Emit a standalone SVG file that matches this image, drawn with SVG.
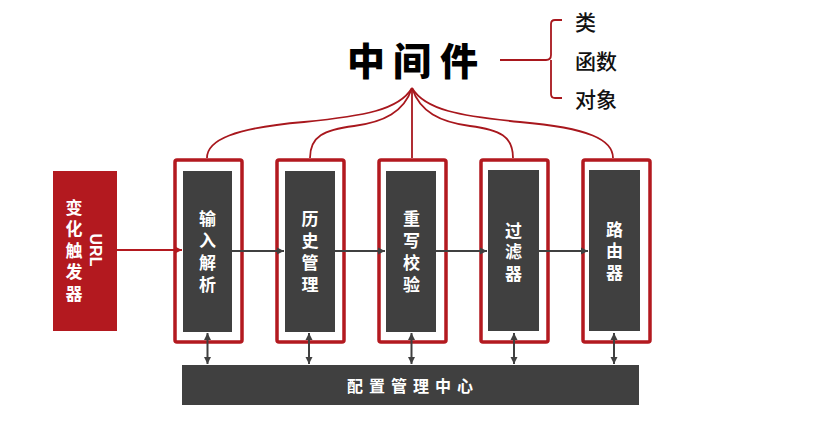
<svg xmlns="http://www.w3.org/2000/svg" width="822" height="433" viewBox="0 0 822 433">
<defs>
<style>
.red{fill:#B3191F}
.frame{fill:none;stroke:#B3191F;stroke-width:3.5}
.inner{fill:#404040}
.nt{font-family:"Noto Sans CJK SC","Noto Sans",sans-serif;font-weight:bold;font-size:17px;fill:#ffffff;text-anchor:middle}
.vt{writing-mode:vertical-rl;text-orientation:upright;letter-spacing:5.3px}
.ct{font-family:"Noto Sans CJK SC","Noto Sans",sans-serif;font-weight:500;font-size:21px;fill:#111111;dominant-baseline:central}
.rl{fill:none;stroke:#A8171D;stroke-width:1.8}
.dl{fill:none;stroke:#404040;stroke-width:2}
</style>
<marker id="ar" markerWidth="8" markerHeight="8" refX="7" refY="4" orient="auto-start-reverse" markerUnits="userSpaceOnUse">
<path d="M0,0.5 L7,4 L0,7.5 Z" fill="#404040"/>
</marker>
<marker id="arr" markerWidth="8" markerHeight="8" refX="7" refY="4" orient="auto" markerUnits="userSpaceOnUse">
<path d="M0,0.5 L7,4 L0,7.5 Z" fill="#B3191F"/>
</marker>
</defs>
<rect width="822" height="433" fill="#ffffff"/>

<g id="title">
<text x="366 412 459" y="58" style="font-family:'Noto Sans CJK SC','Noto Sans',sans-serif;font-weight:900;font-size:38px;fill:#000;text-anchor:middle;dominant-baseline:central">中间件</text>
</g>

<g id="categories">
<text class="ct" x="575" y="21">类</text>
<text class="ct" x="575" y="60">函数</text>
<text class="ct" x="575" y="98">对象</text>
</g>

<g id="url-trigger">
<rect class="red" x="53" y="171" width="64" height="160"/>
<text class="nt vt" x="74" y="252.3" style="letter-spacing:4.5px">变化触发器</text>
<text class="nt" transform="translate(95,250) rotate(90)" x="0" y="0" style="font-size:16px;font-family:'Liberation Sans','Noto Sans',sans-serif;dominant-baseline:central">URL</text>
</g>

<g id="node-input">
<rect class="frame" x="175" y="160" width="67" height="182" rx="2"/>
<rect class="inner" x="183" y="171" width="49" height="161"/>
<text class="nt vt" x="207.5" y="254.2">输入解析</text>
</g>

<g id="node-history">
<rect class="frame" x="277" y="160" width="67" height="182" rx="2"/>
<rect class="inner" x="285" y="171" width="50" height="161"/>
<text class="nt vt" x="310" y="254.2">历史管理</text>
</g>

<g id="node-rewrite">
<rect class="frame" x="379" y="160" width="67" height="182" rx="2"/>
<rect class="inner" x="386" y="171" width="50" height="161"/>
<text class="nt vt" x="411.5" y="254.2">重写校验</text>
</g>

<g id="node-filter">
<rect class="frame" x="481" y="160" width="67" height="182" rx="2"/>
<rect class="inner" x="488" y="170" width="51" height="161"/>
<text class="nt vt" x="513.5" y="254.2" style="letter-spacing:4.5px">过滤器</text>
</g>

<g id="node-router">
<rect class="frame" x="583" y="160" width="67" height="182" rx="2"/>
<rect class="inner" x="589" y="170" width="51" height="161"/>
<text class="nt vt" x="614.5" y="253" style="letter-spacing:4.5px">路由器</text>
</g>

<g id="config-center">
<rect class="inner" x="182" y="365" width="457" height="40"/>
<text class="nt" x="413" y="385" style="font-size:16px;letter-spacing:6px;dominant-baseline:central">配置管理中心</text>
</g>

<g id="connectors">
<path class="rl" d="M500,60 L546,60 Q551,60 551,55 L551,24 Q551,20 555,20 L562,20 M551,60 L551,94 Q551,98 555,98 L562,98"/>
<path class="rl" d="M412,88 L412,158"/>
<path class="rl" d="M412,88 C420,112 440,122 470,126 C500,130 513,136 513,158"/>
<path class="rl" d="M412,88 C425,110 460,116 520,122 C590,128 613,140 613,158"/>
<path class="rl" d="M412,88 C404,112 384,122 354,126 C324,130 310,136 310,158"/>
<path class="rl" d="M412,88 C399,110 364,116 304,122 C234,128 207,140 207,158"/>
<line x1="117" y1="250" x2="182" y2="250" stroke="#B3191F" stroke-width="2" marker-end="url(#arr)"/>
<line class="dl" x1="232" y1="251" x2="284" y2="251" marker-end="url(#ar)"/>
<line class="dl" x1="335" y1="251" x2="385" y2="251" marker-end="url(#ar)"/>
<line class="dl" x1="436" y1="251" x2="487" y2="251" marker-end="url(#ar)"/>
<line class="dl" x1="539" y1="251" x2="588" y2="251" marker-end="url(#ar)"/>
<line class="dl" x1="207.5" y1="333" x2="207.5" y2="364" marker-start="url(#ar)" marker-end="url(#ar)"/>
<line class="dl" x1="309" y1="333" x2="309" y2="364" marker-start="url(#ar)" marker-end="url(#ar)"/>
<line class="dl" x1="411.5" y1="333" x2="411.5" y2="364" marker-start="url(#ar)" marker-end="url(#ar)"/>
<line class="dl" x1="514" y1="333" x2="514" y2="364" marker-start="url(#ar)" marker-end="url(#ar)"/>
<line class="dl" x1="614" y1="333" x2="614" y2="364" marker-start="url(#ar)" marker-end="url(#ar)"/>
</g>
</svg>
